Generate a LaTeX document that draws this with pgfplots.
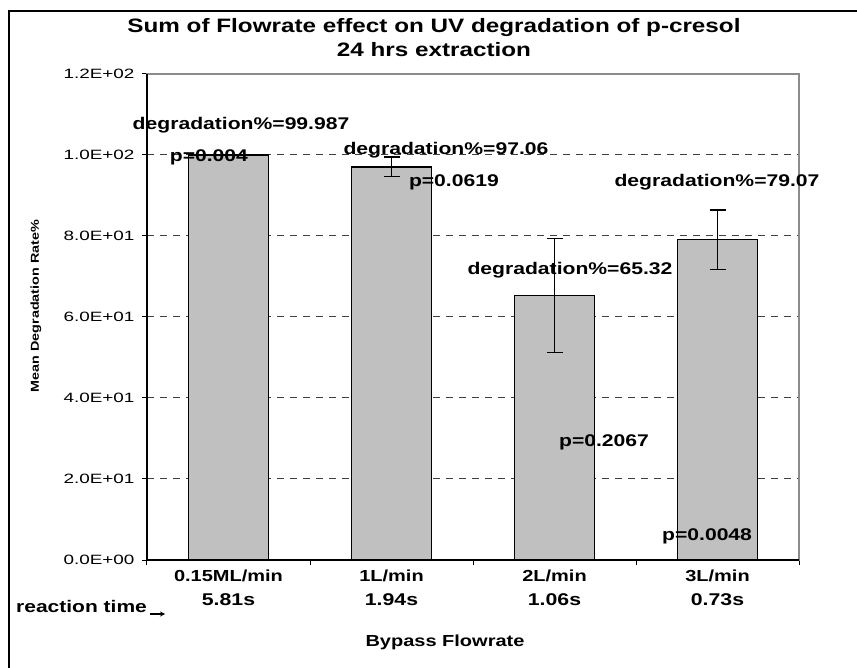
\documentclass[border=0pt]{standalone}
\usepackage{pgfplots}
\pgfplotsset{compat=1.18}
\usepackage{fontspec}
\setmainfont{Liberation Sans}[FakeStretch=1.25]
\newfontfamily\tickfont{Liberation Sans}[FakeStretch=1.4]
\definecolor{barfill}{HTML}{C0C0C0}
\definecolor{boxgray}{HTML}{8C8C8C}
\begin{document}
\begin{tikzpicture}
\useasboundingbox (0pt,0pt) rectangle (857pt,667pt);
\draw[line width=1.6pt] (9pt,-10pt) -- (9pt,656pt) -- (880pt,656pt);
\begin{axis}[
  at={(147pt,107pt)}, anchor=south west,
  scale only axis, width=652pt, height=486pt,
  xmin=-0.5, xmax=3.5, ymin=0, ymax=120,
  clip=false,
  axis line style={draw=boxgray, line width=1.3pt},
  tick pos=left,
  ytick={0,20,40,60,80,100,120},
  yticklabels={0.0E+00,2.0E+01,4.0E+01,6.0E+01,8.0E+01,1.0E+02,1.2E+02},
  yticklabel style={font=\tickfont\fontsize{13.5}{16}\selectfont, xshift=-4pt},
  xtick={-0.5,0.5,1.5,2.5,3.5},
  xticklabels={,,,,},
  extra x ticks={0,1,2,3},
  extra x tick labels={0.15ML/min\\[5pt]\fontsize{17}{17}\selectfont 5.81s,
                       1L/min\\[5pt]\fontsize{17}{17}\selectfont 1.94s,
                       2L/min\\[5pt]\fontsize{17}{17}\selectfont 1.06s,
                       3L/min\\[5pt]\fontsize{17}{17}\selectfont 0.73s},
  extra x tick style={major tick length=0pt},
  xticklabel style={align=center, font=\fontsize{16}{19}\bfseries, yshift=-6pt},
  tick align=outside,
  major tick length=5pt,
  major tick style={draw=black, line width=1pt},
  ymajorgrids,
  major grid style={draw=black!75, line width=1pt, dash pattern=on 7pt off 6pt},
]
\addplot[ybar, bar width=80pt, bar shift=0pt, fill=barfill, draw=black, line width=1.3pt]
  coordinates {(0,99.987)};
\addplot[ybar, bar width=80pt, bar shift=0pt, fill=barfill, draw=black, line width=1.3pt,
  error bars/.cd, y dir=both, y explicit,
  error bar style={line width=1.3pt, draw=black},
  error mark options={rotate=90, mark size=8pt, line width=1.3pt, draw=black}]
  coordinates {(1,97.06) +- (0,2.45) (2,65.32) +- (0,14.1) (3,79.07) +- (0,7.35)};

\begin{scope}[every node/.style={font=\fontsize{16.9}{19}\bfseries, inner sep=0pt}]
\node at (axis cs:0.077,107.4) {degradation\%=99.987};
\node at (axis cs:-0.12,99.5) {p=0.004};
\node at (axis cs:1.334,101.2) {degradation\%=97.06};
\node at (axis cs:1.383,93.3) {p=0.0619};
\node at (axis cs:2.095,71.6) {degradation\%=65.32};
\node at (axis cs:2.997,93.3) {degradation\%=79.07};
\node at (axis cs:2.304,29.1) {p=0.2067};
\node at (axis cs:2.936,5.9) {p=0.0048};
\end{scope}
\end{axis}
\draw[line width=1.3pt] (147pt,593pt) -- (147pt,107pt) -- (799pt,107pt);
\node[anchor=base, font=\fontsize{19.4}{22}\bfseries, inner sep=0pt] at (434pt,634pt) {Sum of Flowrate effect on UV degradation of p-cresol};
\node[anchor=base, font=\fontsize{19.4}{22}\bfseries, inner sep=0pt] at (434pt,610pt) {24 hrs extraction};
\node[rotate=90, font=\fontsize{11.5}{13}\bfseries, inner sep=0pt] at (36pt,361pt) {Mean Degradation Rate\%};
\node[anchor=base west, font=\fontsize{16.8}{19}\bfseries, inner sep=0pt] at (16pt,55pt) {reaction time};
\draw[-stealth, line width=1.2pt] (150pt,53pt) -- (165pt,53pt);
\node[anchor=base, font=\fontsize{16}{18}\bfseries, inner sep=0pt] at (445pt,20pt) {Bypass Flowrate};
\end{tikzpicture}
\end{document}
